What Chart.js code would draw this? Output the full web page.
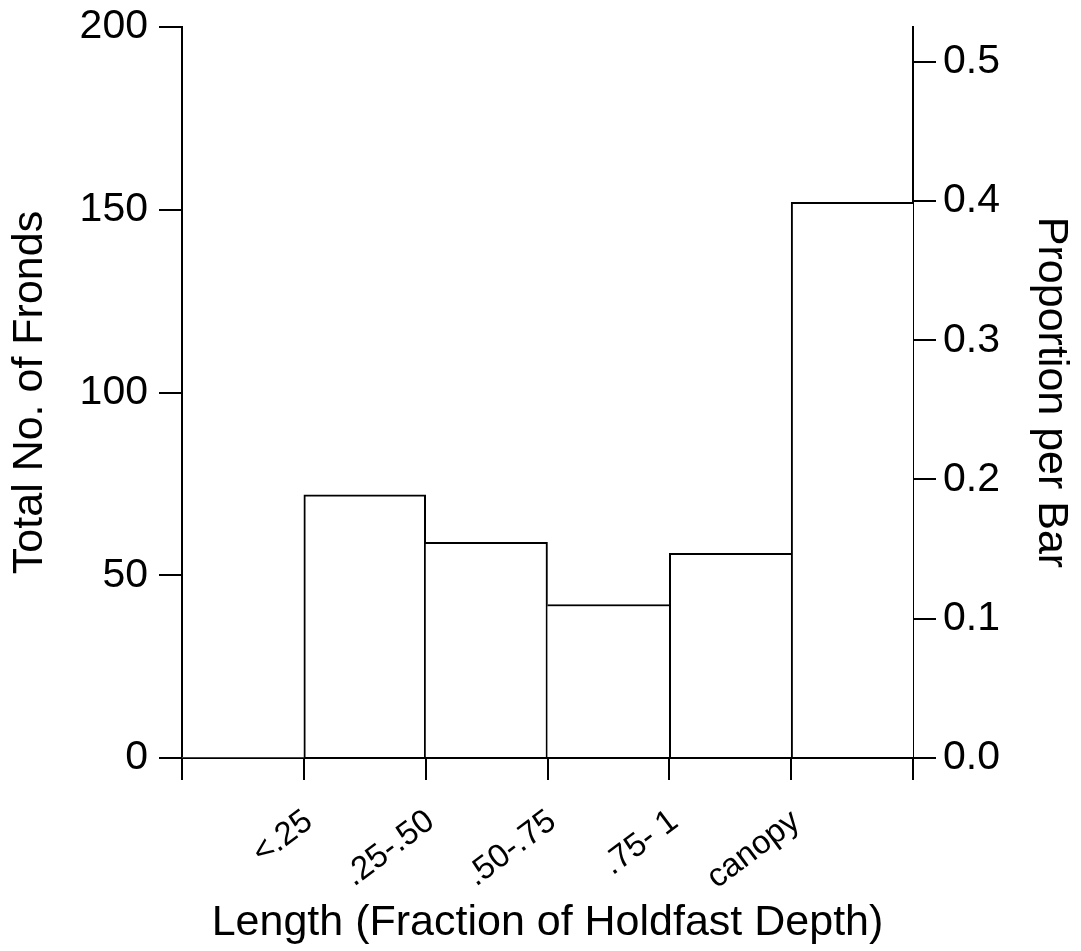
<!DOCTYPE html>
<html>
<head>
<meta charset="utf-8">
<script src="https://cdn.jsdelivr.net/npm/chart.js@4/dist/chart.umd.min.js"></script>
<style>
  html, body { margin: 0; padding: 0; background: #fff; }
</style>
</head>
<body>
<canvas id="histChart" width="1081" height="951"></canvas>
<script>
// bins along the x axis (first bin is empty)
const binCenters = [0.5, 1.5, 2.5, 3.5, 4.5, 5.5];
const frondCounts = [0, 72, 59, 42, 56, 152];
// labels sit on the bin edges 0..6
const tickLabels = ['', '<.25', '.25-.50', '.50-.75', '.75- 1', 'canopy', ''];
const leftTicks = [0, 50, 100, 150, 200];
const rightTicks = [0.0, 0.1, 0.2, 0.3, 0.4, 0.5];

const totalFronds = frondCounts.reduce((a, b) => a + b, 0);
const fontFamily = '"Liberation Sans", Arial, sans-serif';

Chart.defaults.font.family = fontFamily;
Chart.defaults.color = '#000';

// keep the plot area where it is in the original, labels may overflow
function fixWidth(w) {
  return function (axis) {
    axis.width = w;
    axis.paddingTop = 0;
    axis.paddingBottom = 0;
  };
}

// a shared edge between two bins is drawn only by the taller one,
// the outer edges are left to the axis lines
function binBorder(c) {
  const i = c.dataIndex;
  const last = frondCounts.length - 1;
  const v = frondCounts[i];
  const prev = i > 0 ? frondCounts[i - 1] : 0;
  const next = i < last ? frondCounts[i + 1] : 0;
  return {
    top: 2,
    left: i > 0 && v >= prev ? 2 : 0,
    right: i < last && v > next ? 2 : 0,
    bottom: 0
  };
}

const ctx = document.getElementById('histChart').getContext('2d');
new Chart(ctx, {
  type: 'bar',
  data: {
    datasets: [{
      data: binCenters.map((x, i) => ({ x: x, y: frondCounts[i] })),
      backgroundColor: '#fff',
      borderColor: '#000',
      borderWidth: binBorder,
      borderSkipped: false,
      barPercentage: 1,
      categoryPercentage: 1,
      yAxisID: 'y'
    }]
  },
  options: {
    responsive: false,
    animation: false,
    layout: { padding: { top: 27, left: 0, right: 0, bottom: 0 } },
    plugins: {
      legend: { display: false },
      tooltip: { enabled: false }
    },
    scales: {
      x: {
        type: 'linear',
        min: 0,
        max: 6,
        offset: false,
        afterFit: function (axis) {
          axis.height = 193;
          axis.paddingLeft = 0;
          axis.paddingRight = 0;
        },
        afterBuildTicks: function (axis) {
          axis.ticks = tickLabels.map((_, i) => ({ value: i }));
        },
        ticks: {
          autoSkip: false,
          maxRotation: 37,
          minRotation: 37,
          padding: 22,
          labelOffset: 5,
          font: { size: 33 },
          callback: function (value) { return tickLabels[value]; }
        },
        grid: {
          offset: false,
          drawOnChartArea: false,
          drawTicks: true,
          tickLength: 22,
          color: '#000',
          lineWidth: 2
        },
        border: { display: true, color: '#000', width: 2 },
        title: {
          display: true,
          text: 'Length (Fraction of Holdfast Depth)',
          font: { size: 43 },
          padding: { top: 0, bottom: 2 },
          align: 'center'
        }
      },
      y: {
        position: 'left',
        min: 0,
        max: 200,
        afterFit: fixWidth(182),
        afterBuildTicks: function (axis) {
          axis.ticks = leftTicks.map(v => ({ value: v }));
        },
        ticks: { font: { size: 41 }, padding: 11 },
        grid: {
          drawOnChartArea: false,
          drawTicks: true,
          tickLength: 23,
          color: '#000',
          lineWidth: 2
        },
        border: { display: true, color: '#000', width: 2 },
        title: {
          display: true,
          text: 'Total No. of Fronds',
          font: { size: 43 },
          padding: { top: 4, bottom: 0 }
        }
      },
      y1: {
        position: 'right',
        min: 0,
        max: 200 / totalFronds,
        afterFit: fixWidth(168),
        afterBuildTicks: function (axis) {
          axis.ticks = rightTicks.map(v => ({ value: v }));
        },
        ticks: {
          font: { size: 41 },
          padding: 7,
          callback: function (value) { return value.toFixed(1); }
        },
        grid: {
          drawOnChartArea: false,
          drawTicks: true,
          tickLength: 23,
          color: '#000',
          lineWidth: 2
        },
        border: { display: true, color: '#000', width: 2 },
        title: {
          display: true,
          text: 'Proportion per Bar',
          font: { size: 43 },
          padding: { top: 4, bottom: 0 }
        }
      }
    }
  }
});
</script>
</body>
</html>
